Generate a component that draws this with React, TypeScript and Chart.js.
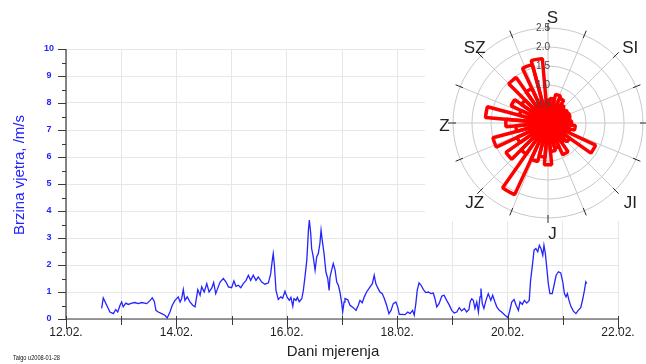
import { useEffect, useRef } from 'react';
import { Chart, registerables } from 'chart.js';

Chart.register(...registerables);

// ---- wind speed record: hours since 12.02. 00:00 and speed in m/s ----
const hours = [
  15.5, 16.2, 17.7, 19.1, 20.6, 21.6, 22.5, 23.5, 24.2, 24.9, 26.0, 27.1, 28.6, 30.0, 31.4, 32.9,
  35.1, 36.5, 37.5, 38.4, 39.1, 40.1, 41.6, 43.0, 44.0, 45.2, 46.2, 47.4, 48.8, 49.6, 50.3, 51.0,
  51.7, 52.7, 53.9, 55.1, 56.1, 57.3, 58.3, 59.0, 60.1, 61.2, 62.2, 63.4, 64.2, 65.1, 66.2,
  67.0, 68.4, 69.6, 70.6, 72.0, 73.0, 73.9, 74.9, 76.0, 77.1, 78.3, 79.3, 80.3, 81.4, 82.6, 83.6,
  85.1, 86.5, 88.0, 89.0, 89.7, 90.1, 90.6, 91.3, 92.3, 93.4, 94.2, 95.2, 96.2, 97.1, 97.8, 98.6,
  99.1, 100.0, 100.6, 101.4, 102.5, 103.2, 103.9, 104.7, 105.1, 105.4, 105.8, 106.4, 106.8, 107.5,
  108.3, 109.0, 109.7, 110.4, 110.9, 111.4, 112.2, 113.0, 113.8, 114.4, 114.8, 115.5, 116.2, 117.0,
  117.7, 118.4, 119.1, 119.9, 120.3, 120.9,
  121.3, 122.5, 123.5, 124.9, 126.1, 127.1, 127.8, 128.8, 129.7, 130.7, 132.2, 133.2, 134.0, 134.7,
  135.5, 136.5, 137.5, 138.4, 139.4, 140.4, 141.3, 142.3, 143.4, 144.2, 144.9, 146.0, 147.4, 148.6,
  149.6, 150.7, 151.4, 152.1, 152.7, 153.5, 154.4, 155.4, 156.4, 157.5, 158.7, 159.7, 160.4, 161.2,
  162.2, 163.4, 164.4, 165.5, 166.5, 167.7, 168.8, 169.9, 171.0, 172.0, 173.2, 174.2, 175.2,
  175.7, 176.4, 177.1, 177.8, 178.6, 179.3, 180.0, 180.4, 181.0, 181.7, 182.6, 183.6, 184.7, 185.5,
  186.5, 187.3, 188.4, 189.4, 190.9, 192.1, 192.8, 193.8, 194.8, 195.7, 196.7, 197.4, 198.4, 199.3,
  200.3, 201.4, 202.0, 202.7, 203.5, 204.3, 205.1, 205.8, 206.5, 207.3, 207.8, 208.4, 209.0, 209.7,
  210.4, 211.4, 212.2, 213.1, 214.1, 215.1, 216.0, 216.7, 217.4, 218.0, 218.7, 219.6, 220.6, 221.7,
  222.7, 223.8, 224.7, 225.4, 226.0, 226.4,
];

const speeds = [
  0.39, 0.78, 0.51, 0.26, 0.20, 0.35, 0.26, 0.51, 0.63, 0.45, 0.59, 0.54, 0.59, 0.61, 0.57, 0.61,
  0.57, 0.68, 0.78, 0.65, 0.32, 0.26, 0.20, 0.14, 0.04, 0.26, 0.51, 0.69, 0.82, 0.63, 0.76, 1.09,
  0.69, 0.82, 0.63, 0.51, 0.45, 1.09, 0.88, 1.19, 1.00, 1.31, 1.00, 1.15, 1.35, 0.94, 1.19,
  1.37, 1.50, 1.37, 1.19, 1.16, 1.41, 1.21, 1.25, 1.16, 1.31, 1.43, 1.62, 1.43, 1.62, 1.43, 1.56,
  1.37, 1.29, 1.34, 1.68, 2.18, 2.42, 2.00, 1.06, 0.72, 0.82, 0.77, 1.03, 0.80, 0.69, 0.80, 0.47,
  0.75, 0.69, 0.80, 0.64, 0.75, 1.06, 1.56, 2.18, 2.80, 3.29, 3.66, 3.17, 2.61, 2.30,
  1.81, 2.30, 2.42, 2.80, 3.29, 2.92, 2.42, 1.74, 1.50, 1.06, 1.56, 1.81, 2.05, 1.81,
  1.37, 1.25, 1.00, 0.57, 0.26, 0.63,
  0.76, 0.71, 0.51, 0.42, 0.32, 0.51, 0.69, 0.60, 0.82, 1.00, 1.19, 1.31, 1.62, 1.31,
  1.16, 1.00, 0.94, 0.76, 0.51, 0.20, 0.32, 0.57, 0.63, 0.45, 0.17, 0.17, 0.16, 0.26,
  0.20, 0.32, 0.14, 0.57, 1.06, 1.34, 1.25, 1.09, 0.98, 1.00, 0.94, 0.96, 0.76, 0.45,
  0.57, 0.85, 0.88, 0.69, 0.54, 0.32, 0.22, 0.26, 0.42, 0.30, 0.39, 0.26, 0.35,
  0.63, 0.75, 0.69, 0.39, 0.63, 0.26, 0.82, 1.13, 0.57, 0.39, 0.69, 0.94, 0.69, 0.88,
  0.63, 0.45, 0.32, 0.26, 0.14, 0.05, 0.26, 0.63, 0.72, 0.51, 0.32, 0.63, 0.54, 0.69,
  0.59, 0.69, 1.43, 1.93, 2.55, 2.61, 2.49, 2.73, 2.61, 2.36, 2.73, 2.43, 1.93, 1.31,
  0.94, 0.94, 1.25, 1.62, 1.75, 1.71, 1.37, 0.94, 0.82, 0.94, 0.69, 0.45, 0.29, 0.20,
  0.32, 0.42, 0.75, 1.06, 1.37, 1.31,
];

// axis ticks
const firstDay = 12;
const lastDay = 22;
const labelledDays = [12, 14, 16, 18, 20, 22];
const speedTicks = [0, 1, 2, 3, 4, 5, 6, 7, 8, 9, 10];

// ---- wind rose: sector centres (degrees from north) and mean speed per sector ----
const roseDirections = [
  0, 10, 20, 30, 40, 50, 60, 70, 80, 90, 100, 110, 120, 130, 140, 150, 160, 170,
  180, 190, 200, 210, 220, 230, 240, 250, 260, 270, 280, 290, 300, 310, 320, 330, 340, 350,
];
const roseValues = [
  0.6, 0.65, 0.78, 0.72, 0.6, 0.55, 0.58, 0.6, 0.58, 0.62, 0.72, 0.6, 1.38, 0.7, 0.62, 0.92, 0.68, 0.75,
  1.1, 0.9, 1.05, 2.08, 1.0, 1.35, 0.9, 1.5, 0.85, 1.11, 1.65, 0.78, 1.07, 0.85, 1.46, 1.0, 1.59, 1.7,
];
const roseRings = [0.5, 1.0, 1.5, 2.0, 2.5];
const compassPoints = [
  { text: 'S', deg: 0 },
  { text: 'SI', deg: 45 },
  { text: 'I', deg: 90 },
  { text: 'JI', deg: 135 },
  { text: 'J', deg: 180 },
  { text: 'JZ', deg: 225 },
  { text: 'Z', deg: 270 },
  { text: 'SZ', deg: 315 },
];

const FONT = '"Liberation Sans", Arial, Helvetica, sans-serif';
const BLUE = '#2424ff';
const AXIS = '#3a3a3a';
const GRID = '#e7e7e7';

const windAxes = {
  id: 'windAxes',
  afterDraw(chart: any) {
    const { ctx, chartArea: a } = chart;
    const xs = chart.scales.x;
    const ys = chart.scales.y;
    const seg = (x1: number, y1: number, x2: number, y2: number) => {
      ctx.beginPath();
      ctx.moveTo(x1, y1);
      ctx.lineTo(x2, y2);
      ctx.stroke();
    };
    ctx.save();
    ctx.strokeStyle = AXIS;
    ctx.lineWidth = 1.2;
    seg(a.left, a.top, a.left, a.bottom);
    seg(a.left, a.bottom, a.right, a.bottom);

    ctx.lineWidth = 1;
    for (let d = firstDay; d <= lastDay; d++) {
      const px = Math.round(xs.getPixelForValue(d)) + 0.5;
      const major = labelledDays.includes(d);
      seg(px, a.bottom - 3, px, a.bottom + (major ? 10 : 6));
    }
    for (let v = 0; v <= 10; v += 0.5) {
      const py = Math.round(ys.getPixelForValue(v)) + 0.5;
      const major = Number.isInteger(v);
      seg(a.left - (major ? 8 : 4), py, a.left, py);
    }

    ctx.textAlign = 'center';
    ctx.textBaseline = 'middle';
    ctx.fillStyle = BLUE;
    ctx.font = `bold 9px ${FONT}`;
    speedTicks.forEach((v) => ctx.fillText(String(v), a.left - 17, ys.getPixelForValue(v)));

    ctx.fillStyle = '#1e1e1e';
    ctx.font = `12px ${FONT}`;
    labelledDays.forEach((d) => ctx.fillText(`${d}.02.`, xs.getPixelForValue(d), a.bottom + 14));

    ctx.font = `15px ${FONT}`;
    ctx.fillText('Dani mjerenja', (a.left + a.right) / 2 - 9, a.bottom + 33);

    ctx.save();
    ctx.translate(a.left - 46, (a.top + a.bottom) / 2 - 9);
    ctx.rotate(-Math.PI / 2);
    ctx.fillStyle = BLUE;
    ctx.font = `15px ${FONT}`;
    ctx.fillText('Brzina vjetra, /m/s', 0, 0);
    ctx.restore();

    ctx.textAlign = 'left';
    ctx.textBaseline = 'alphabetic';
    ctx.fillStyle = '#111';
    ctx.font = `8px ${FONT}`;
    ctx.fillText('Taigo u2008-01-28', 13, 360, 47);
    ctx.restore();
  },
};

const roseFrame = {
  id: 'roseFrame',
  beforeDraw(chart: any) {
    const { ctx } = chart;
    ctx.save();
    ctx.fillStyle = '#ffffff';
    ctx.fillRect(0, 0, chart.width, 221);
    ctx.restore();
  },
  beforeDatasetsDraw(chart: any) {
    const { ctx } = chart;
    const r = chart.scales.r;
    ctx.save();
    ctx.strokeStyle = '#c9c9c9';
    ctx.lineWidth = 1;
    for (let k = 0; k < 16; k++) {
      const t = (k * 22.5 * Math.PI) / 180;
      ctx.beginPath();
      ctx.moveTo(r.xCenter, r.yCenter);
      ctx.lineTo(r.xCenter + Math.sin(t) * r.drawingArea, r.yCenter - Math.cos(t) * r.drawingArea);
      ctx.stroke();
    }
    ctx.restore();
  },
  afterDraw(chart: any) {
    const { ctx } = chart;
    const r = chart.scales.r;
    const cx = r.xCenter;
    const cy = r.yCenter;
    const R = r.drawingArea;
    ctx.save();
    ctx.strokeStyle = '#2a2a2a';
    ctx.lineWidth = 1;
    for (let k = 0; k < 16; k++) {
      const t = (k * 22.5 * Math.PI) / 180;
      ctx.beginPath();
      ctx.moveTo(cx + Math.sin(t) * (R - 3), cy - Math.cos(t) * (R - 3));
      ctx.lineTo(cx + Math.sin(t) * (R + 5), cy - Math.cos(t) * (R + 5));
      ctx.stroke();
    }

    ctx.fillStyle = '#454545';
    ctx.font = `10px ${FONT}`;
    ctx.textAlign = 'right';
    ctx.textBaseline = 'middle';
    roseRings.forEach((v) => ctx.fillText(v.toFixed(1), cx + 2, cy - r.getDistanceFromCenterForValue(v)));

    ctx.fillStyle = '#222';
    ctx.font = `17px ${FONT}`;
    ctx.textAlign = 'center';
    compassPoints.forEach((p) => {
      const t = (p.deg * Math.PI) / 180;
      const dist = p.deg % 90 === 0 ? R + 13 : R + 15;
      ctx.fillText(p.text, cx + Math.sin(t) * dist + 4.5, cy - Math.cos(t) * dist + 3);
    });
    ctx.restore();
  },
};

export default function App() {
  const mainRef = useRef<HTMLCanvasElement>(null);
  const roseRef = useRef<HTMLCanvasElement>(null);

  useEffect(() => {
    const points = hours.map((h, i) => ({ x: firstDay + h / 24, y: speeds[i] }));

    const main = new Chart(mainRef.current as HTMLCanvasElement, {
      type: 'line',
      data: {
        datasets: [
          {
            data: points,
            borderColor: BLUE,
            borderWidth: 1.3,
            pointRadius: 0,
            tension: 0,
            fill: false,
          },
        ],
      },
      options: {
        animation: false,
        responsive: false,
        devicePixelRatio: 1,
        events: [],
        layout: { padding: { left: 66, top: 49, right: 28, bottom: 45 } },
        plugins: { legend: { display: false }, tooltip: { enabled: false } },
        scales: {
          x: {
            type: 'linear',
            min: firstDay,
            max: lastDay,
            ticks: { display: false, stepSize: 1 },
            grid: { color: GRID, drawTicks: false, tickLength: 0 },
            border: { display: false },
            afterFit: (s: any) => {
              s.height = 0;
            },
          },
          y: {
            type: 'linear',
            min: 0,
            max: 10,
            ticks: { display: false, stepSize: 1 },
            grid: { color: GRID, drawTicks: false, tickLength: 0 },
            border: { display: false },
            afterFit: (s: any) => {
              s.width = 0;
            },
          },
        },
      } as any,
      plugins: [windAxes],
    });

    const rose = new Chart(roseRef.current as HTMLCanvasElement, {
      type: 'polarArea',
      data: {
        labels: roseDirections.map((d) => `${d}°`),
        datasets: [
          {
            data: roseValues,
            backgroundColor: 'rgba(0,0,0,0)',
            borderColor: '#ff0000',
            borderWidth: 3.5,
          },
        ],
      },
      options: {
        animation: false,
        responsive: false,
        devicePixelRatio: 1,
        events: [],
        layout: { padding: { left: 28, top: 28, right: 3, bottom: 27 } },
        plugins: { legend: { display: false }, tooltip: { enabled: false } },
        scales: {
          r: {
            min: 0,
            max: 2.5,
            startAngle: -5,
            ticks: { display: false, stepSize: 0.5 },
            grid: { color: '#c9c9c9', circular: true, lineWidth: 1 },
            angleLines: { display: false },
            pointLabels: { display: false },
          },
        },
      } as any,
      plugins: [roseFrame],
    });

    return () => {
      main.destroy();
      rose.destroy();
    };
  }, []);

  return (
    <div
      style={{
        position: 'fixed',
        left: 0,
        top: 0,
        width: 646,
        height: 364,
        background: '#ffffff',
        overflow: 'hidden',
      }}
    >
      <canvas
        ref={mainRef}
        width={646}
        height={364}
        style={{ position: 'absolute', left: 0, top: 0, display: 'block' }}
      />
      <canvas
        ref={roseRef}
        width={221}
        height={245}
        style={{ position: 'absolute', left: 425, top: 0, display: 'block' }}
      />
    </div>
  );
}
